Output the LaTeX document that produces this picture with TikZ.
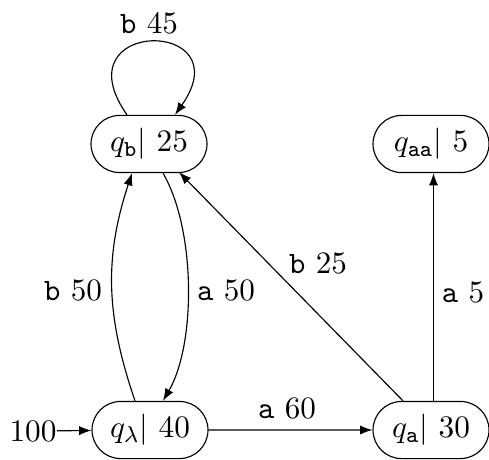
\documentclass[tikz,border=0pt]{standalone}
\usetikzlibrary{shapes.misc,arrows.meta,calc}
\begin{document}
\begin{tikzpicture}[x=0.35pt,y=-0.35pt,
  every node/.style={font=\fontsize{10.9}{13}\selectfont},
  state/.style={draw, rounded rectangle, minimum width=40.6pt, minimum height=20pt, inner sep=0pt},
  tr/.style={-{Latex[length=4.3pt,width=3.2pt]}},
  lbl/.style={inner sep=0pt}]
\useasboundingbox (0,0) rectangle (489,459);
\node[state] (qb) at (149,144) {$q_{\mathtt{b}}|\ 25$};
\node[state] (qaa) at (431,144) {$q_{\mathtt{aa}}|\ 5$};
\node[state] (ql) at (150,430) {$q_{\lambda}|\ 40$};
\node[state] (qa) at (431,430) {$q_{\mathtt{a}}|\ 30$};
\node[lbl] (init) at (33,431) {$100$};
\draw[tr] (init) -- (ql);
\draw[tr] (ql) -- (qa);
\draw[tr] ($(qb.north)+(-22,0)$) .. controls (58.8,17.7) and (243.2,17.7) .. ($(qb.north)+(26,0)$);
\draw[tr] ($(ql.north)+(-15,0)$) .. controls (106,316) and (104,258) .. ($(qb.south)+(-17,0)$);
\draw[tr] ($(qb.south)+(14,0)$) .. controls (196,230) and (196,344) .. ($(ql.north)+(13,0)$);
\draw[tr] ($(qa.north)+(-28,0)$) -- ($(qb.south)+(30,-1)$);
\draw[tr] ($(qa.north)+(2.5,0)$) -- ($(qaa.south)+(2.5,0)$);
\node[lbl] (l1) at (149,23) {\texttt{b} 45};
\node[lbl] (l2) at (73,290) {\texttt{b} 50};
\node[lbl] (l3) at (226,290) {\texttt{a} 50};
\node[lbl] (l4) at (318,263) {\texttt{b} 25};
\node[lbl] (l5) at (463,292) {\texttt{a} 5};
\node[lbl] (l6) at (287,408) {\texttt{a} 60};
\end{tikzpicture}
\end{document}
